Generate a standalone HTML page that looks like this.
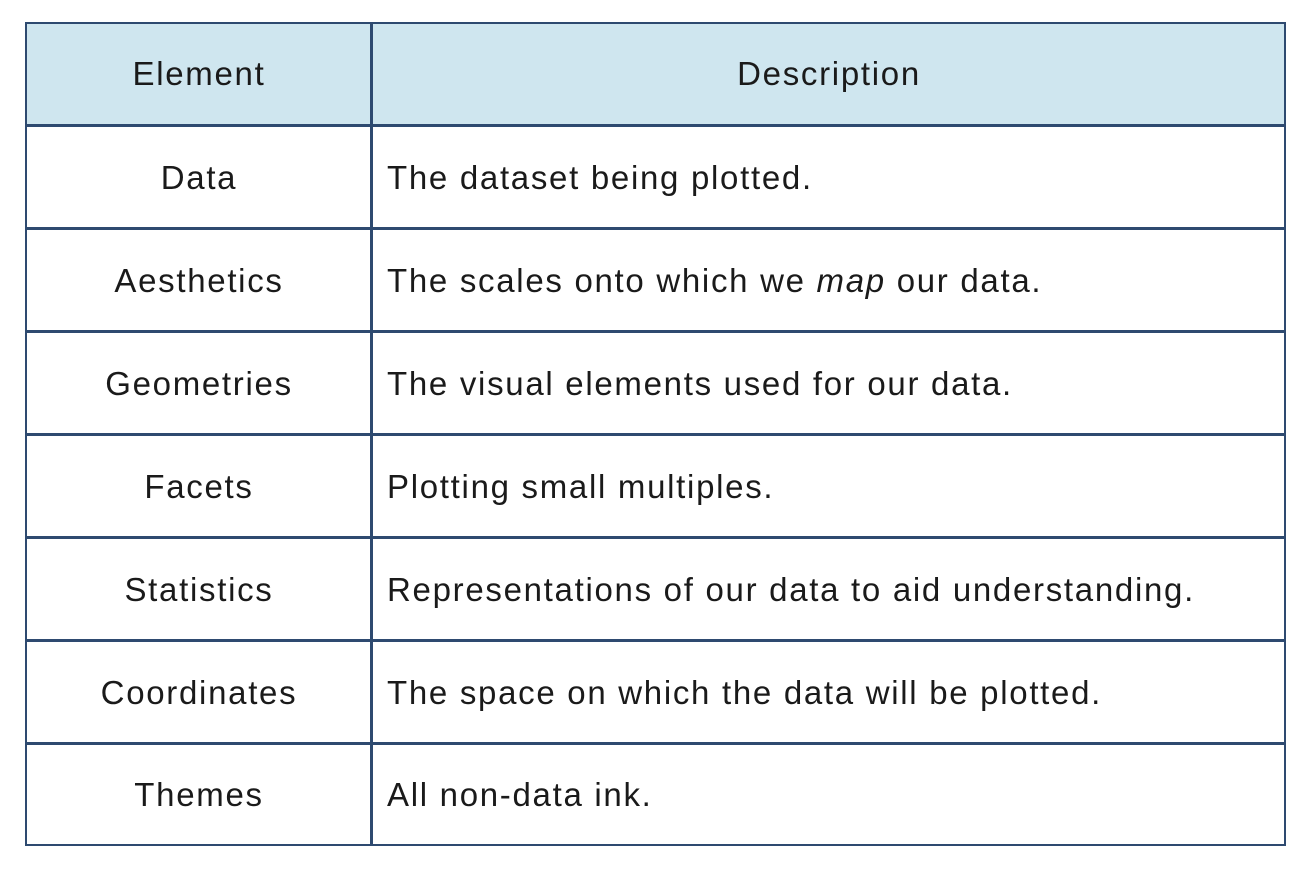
<!DOCTYPE html>
<html><head><style>
html,body{margin:0;padding:0;background:#fff;width:1304px;height:872px;overflow:hidden}
.t{position:absolute;left:25px;top:22px;width:1261px;height:824px;border:2.5px solid #2e4a70;box-sizing:border-box}
.r{position:absolute;left:0;width:100%;font-family:"Liberation Sans",sans-serif;font-size:33px;letter-spacing:1.7px;color:#1a1a1a}
.r div{position:absolute;top:0;height:100%;display:flex;align-items:center;white-space:nowrap}
.a{left:0;width:344px;justify-content:center}
.b{left:345px;padding-left:15px}
.h{position:absolute;left:0;width:100%;height:2.5px;background:#2e4a70}
.v{position:absolute;top:0;left:343px;width:2.5px;height:100%;background:#2e4a70}
</style></head><body>
<div class="t">
<div class="r" style="top:0;height:100px;background:#cfe6ef"><div class="a">Element</div><div class="b" style="left:345px;width:914px;padding:0;justify-content:center">Description</div></div>
<div class="r" style="top:102px;height:103px"><div class="a">Data</div><div class="b">The dataset being plotted.</div></div>
<div class="r" style="top:205px;height:103px"><div class="a">Aesthetics</div><div class="b">The scales onto which we&nbsp;<i>map</i>&nbsp;our data.</div></div>
<div class="r" style="top:308px;height:103px"><div class="a">Geometries</div><div class="b">The visual elements used for our data.</div></div>
<div class="r" style="top:411px;height:103px"><div class="a">Facets</div><div class="b">Plotting small multiples.</div></div>
<div class="r" style="top:514px;height:103px"><div class="a">Statistics</div><div class="b">Representations of our data to aid understanding.</div></div>
<div class="r" style="top:617px;height:103px"><div class="a">Coordinates</div><div class="b">The space on which the data will be plotted.</div></div>
<div class="r" style="top:720px;height:101px"><div class="a">Themes</div><div class="b">All non-data ink.</div></div>
<div class="h" style="top:100px"></div>
<div class="h" style="top:203px"></div>
<div class="h" style="top:306px"></div>
<div class="h" style="top:409px"></div>
<div class="h" style="top:512px"></div>
<div class="h" style="top:615px"></div>
<div class="h" style="top:718px"></div>
<div class="v"></div>
</div>
</body></html>
